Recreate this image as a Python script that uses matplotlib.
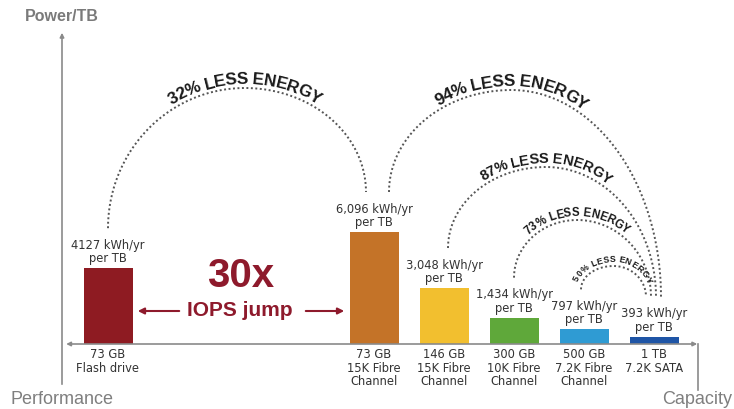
import numpy as np
import matplotlib.pyplot as plt
from matplotlib.font_manager import FontProperties
from matplotlib.textpath import TextToPath

plt.rcParams['font.family'] = ['Liberation Sans', 'DejaVu Sans']

### Data ###
drives = ["73 GB\nFlash drive", "73 GB\n15K Fibre\nChannel", "146 GB\n15K Fibre\nChannel",
          "300 GB\n10K Fibre\nChannel", "500 GB\n7.2K Fibre\nChannel", "1 TB\n7.2K SATA"]
power = [4127, 6096, 3048, 1434, 797, 393]          # kWh/yr per TB
power_labels = ["4127 kWh/yr\nper TB", "6,096 kWh/yr\nper TB", "3,048 kWh/yr\nper TB",
                "1,434 kWh/yr\nper TB", "797 kWh/yr\nper TB", "393 kWh/yr\nper TB"]
xpos = [0, 3.8, 4.8, 5.8, 6.8, 7.8]
colors = ["#8e1b22", "#c47328", "#f2bf2f", "#5fa83a", "#2f9bd3", "#1f55a6"]

savings = ["32% LESS ENERGY", "94% LESS ENERGY", "87% LESS ENERGY",
           "73% LESS ENERGY", "50% LESS ENERGY"]
arc_from = [0, 1, 2, 3, 4]
arc_to = [1, 5, 5, 5, 5]

### Layout (pixels) ###
PX = 70.0            # pixels per x unit
K = 6096 / 112.0     # kWh per pixel
red = "#8e1a2c"
grey = "#8a8a8a"

fig = plt.figure(figsize=(7.34, 4.09), dpi=100)
ax = fig.add_axes([0, 0, 1, 1])
ax.set_xlim(-108 / PX, (734 - 108) / PX)
ax.set_ylim(-65 * K, 344 * K)
ax.axis('off')

# bars + labels
ax.bar(xpos, power, width=0.7, color=colors, zorder=3)
for x, v, lab in zip(xpos, power, power_labels):
    ax.text(x, v + 3 * K, lab, ha='center', va='bottom', fontsize=8.3, family='DejaVu Sans',
            color='#333333', linespacing=1.05)
for x, lab in zip(xpos, drives):
    ax.text(x, -4 * K, lab, ha='center', va='top', fontsize=8.3, family='DejaVu Sans',
            color='#333333', linespacing=1.05)

# axes lines
xa = (62 - 108) / PX
ax.annotate('', xy=(xa, 314 * K), xytext=(xa, -43 * K),
            arrowprops=dict(arrowstyle='-|>', color=grey, lw=1.2, mutation_scale=6))
ax.annotate('', xy=((700 - 108) / PX, 0), xytext=(xa + 0.02, 0),
            arrowprops=dict(arrowstyle='<|-|>', color=grey, lw=1.2, mutation_scale=6))
xr = (698 - 108) / PX
ax.plot([xr, xr], [0, -46 * K], color=grey, lw=1.2)

ax.text(62 / PX - 108 / PX, 328 * K, "Power/TB", ha='center', va='center',
        fontsize=11.5, fontweight='bold', color='#7a7a7a')
ax.text(-98 / PX, -56 * K, "Performance", ha='left', va='center',
        fontsize=13, color='#7f7f7f')
ax.text((732 - 108) / PX, -56 * K, "Capacity", ha='right', va='center',
        fontsize=13, color='#7f7f7f')

# 30x IOPS jump
ax.text((241 - 108) / PX, (344 - 276) * K, "30x", ha='center', va='center',
        fontsize=29, fontweight='bold', color=red)
ax.text((240 - 108) / PX, (344 - 311) * K, "IOPS jump", ha='center', va='center',
        fontsize=15, fontweight='bold', color=red)
ax.annotate('', xy=((135 - 108) / PX, (344 - 311) * K), xytext=((182 - 108) / PX, (344 - 311) * K),
            arrowprops=dict(arrowstyle='-|>', color=red, lw=1.5, mutation_scale=9))
ax.annotate('', xy=((347 - 108) / PX, (344 - 311) * K), xytext=((303 - 108) / PX, (344 - 311) * K),
            arrowprops=dict(arrowstyle='-|>', color=red, lw=1.5, mutation_scale=9))

### Dotted arcs with curved text ###
start_dx = [0, 15, 4, 0, -3]      # pixel offsets of arc ends from bar centres
end_dx = [-8, 7, 2, -3, -8]
peak_h = [256, 254, 177, 124, 78]  # arc top, px above the x axis
peak_f = [0.53, 0.45, 0.47, 0.46, 0.5]
text_size = [12.3, 12.3, 10.5, 8.3, 6.3]

t2p = TextToPath()
fig.canvas.draw()
to_disp = ax.transData.transform
to_data = ax.transData.inverted().transform
scale = fig.dpi / 72.0
y_base = to_disp((0, 0))[1]


def arc_points(p0, p1, h, f, n=300):
    # two quarter-ellipses joined at the top
    xp = p0[0] + f * (p1[0] - p0[0])
    yp = y_base + h
    t = np.linspace(0, np.pi / 2, n)
    left = np.column_stack([xp - (xp - p0[0]) * np.cos(t), p0[1] + (yp - p0[1]) * np.sin(t)])
    t = np.linspace(np.pi / 2, np.pi, n)[1:]
    right = np.column_stack([xp - (p1[0] - xp) * np.cos(t), p1[1] + (yp - p1[1]) * np.sin(t)])
    return np.vstack([left, right])


def text_on_arc(pts, s, size, offset=4, track=0.93):
    prop = FontProperties(family='Liberation Sans', weight='bold', size=size)

    def w(txt):
        return t2p.get_text_width_height_descent(txt, prop, ismath=False)[0] * scale

    seg = np.hypot(np.diff(pts[:, 0]), np.diff(pts[:, 1]))
    arclen = np.concatenate([[0], np.cumsum(seg)])
    s_mid = arclen[np.argmax(pts[:, 1])]
    total = w(s)
    for i, ch in enumerate(s):
        if ch == ' ':
            continue
        c = w(s[:i + 1]) - w(ch) / 2
        sc = s_mid + (c - total / 2) * track
        x = np.interp(sc, arclen, pts[:, 0])
        y = np.interp(sc, arclen, pts[:, 1])
        j = min(max(np.searchsorted(arclen, sc), 1), len(pts) - 1)
        dx, dy = pts[j] - pts[j - 1]
        ang = np.arctan2(dy, dx)
        nx, ny = -np.sin(ang), np.cos(ang)
        px, py = to_data((x + nx * offset, y + ny * offset))
        ax.text(px, py, ch, fontproperties=prop, color='#1a1a1a', ha='center',
                va='baseline', rotation=np.degrees(ang), rotation_mode='anchor')


for k in range(len(savings)):
    i, j = arc_from[k], arc_to[k]
    p0 = to_disp((xpos[i], power[i])) + np.array([start_dx[k], 40])
    p1 = to_disp((xpos[j], power[j])) + np.array([end_dx[k], 40])
    pts = arc_points(p0, p1, peak_h[k], peak_f[k])
    d = to_data(pts)
    ax.plot(d[:, 0], d[:, 1], color='#555555', lw=1.4, linestyle=(0, (1, 1.3)))
    text_on_arc(pts, savings[k], text_size[k])

fig.savefig("out.png", dpi=100)
